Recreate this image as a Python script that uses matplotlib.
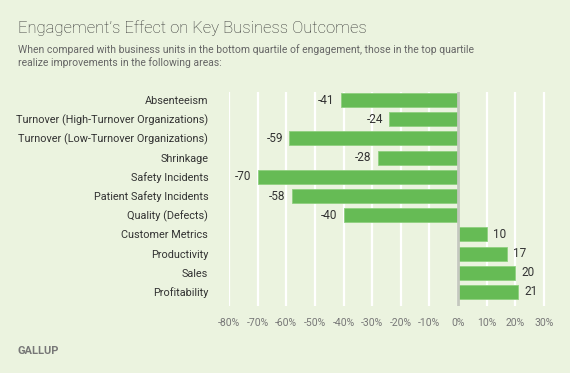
import matplotlib
matplotlib.use("Agg")
import matplotlib.pyplot as plt

categories = ["Absenteeism", "Turnover (High-Turnover Organizations)",
              "Turnover (Low-Turnover Organizations)", "Shrinkage",
              "Safety Incidents", "Patient Safety Incidents", "Quality (Defects)",
              "Customer Metrics", "Productivity", "Sales", "Profitability"]
values = [-41, -24, -59, -28, -70, -58, -40, 10, 17, 20, 21]
ticks = [-80, -70, -60, -50, -40, -30, -20, -10, 0, 10, 20, 30]

bg = "#EBF3DF"
bar_col = "#66BB55"
plt.rcParams["font.family"] = ["Roboto", "DejaVu Sans"]

W, H = 570, 373
fig = plt.figure(figsize=(W / 100, H / 100), dpi=100, facecolor=bg)

x0, x1 = -80, 32
ppu = 2.8625
left_px, top_px, bot_px = 229, 92, 306
ax = fig.add_axes([left_px / W, 1 - bot_px / H, (x1 - x0) * ppu / W, (bot_px - top_px) / H])
ax.set_facecolor(bg)

ypos = list(range(len(categories)))
ax.barh(ypos, values, height=0.73, color=bar_col, edgecolor="#8FD07F", linewidth=0.6, zorder=3)

for y, v in zip(ypos, values):
    if v < 0:
        ax.text(v - 2.2, y, str(v), ha="right", va="center", fontsize=8.5, color="#333333")
    else:
        ax.text(v + 2.2, y, str(v), ha="left", va="center", fontsize=8.5, color="#333333")

ax.set_xlim(x0, x1)
ax.set_ylim(10.73, -0.42)
ax.set_xticks(ticks)
ax.set_xticklabels([f"{t}%" for t in ticks], fontsize=7.5, color="#777777")
ax.set_yticks(ypos)
ax.set_yticklabels(categories, fontsize=7.8, color="#333333")
ax.tick_params(axis="y", length=0, pad=15)
ax.tick_params(axis="x", length=0, pad=9)
ax.grid(axis="x", color="white", linewidth=1.6, zorder=0)
ax.axvline(0, color="#C4C8BE", linewidth=2, zorder=4)
for s in ax.spines.values():
    s.set_visible(False)

fig.text(18 / W, 1 - 33 / H, "Engagement\u2019s Effect on Key Business Outcomes",
         fontsize=12, color="#333333", va="baseline", fontweight="light")
fig.text(18 / W, 1 - 53 / H,
         "When compared with business units in the bottom quartile of engagement, those in the top quartile",
         fontsize=7.5, color="#666666", va="baseline")
fig.text(18 / W, 1 - 66 / H, "realize improvements in the following areas:",
         fontsize=7.5, color="#666666", va="baseline")
fig.text(18 / W, 1 - 354 / H, "GALLUP", fontsize=8, color="#777777", va="baseline",
         fontweight="bold")

fig.savefig("out.png", dpi=100, facecolor=bg)
